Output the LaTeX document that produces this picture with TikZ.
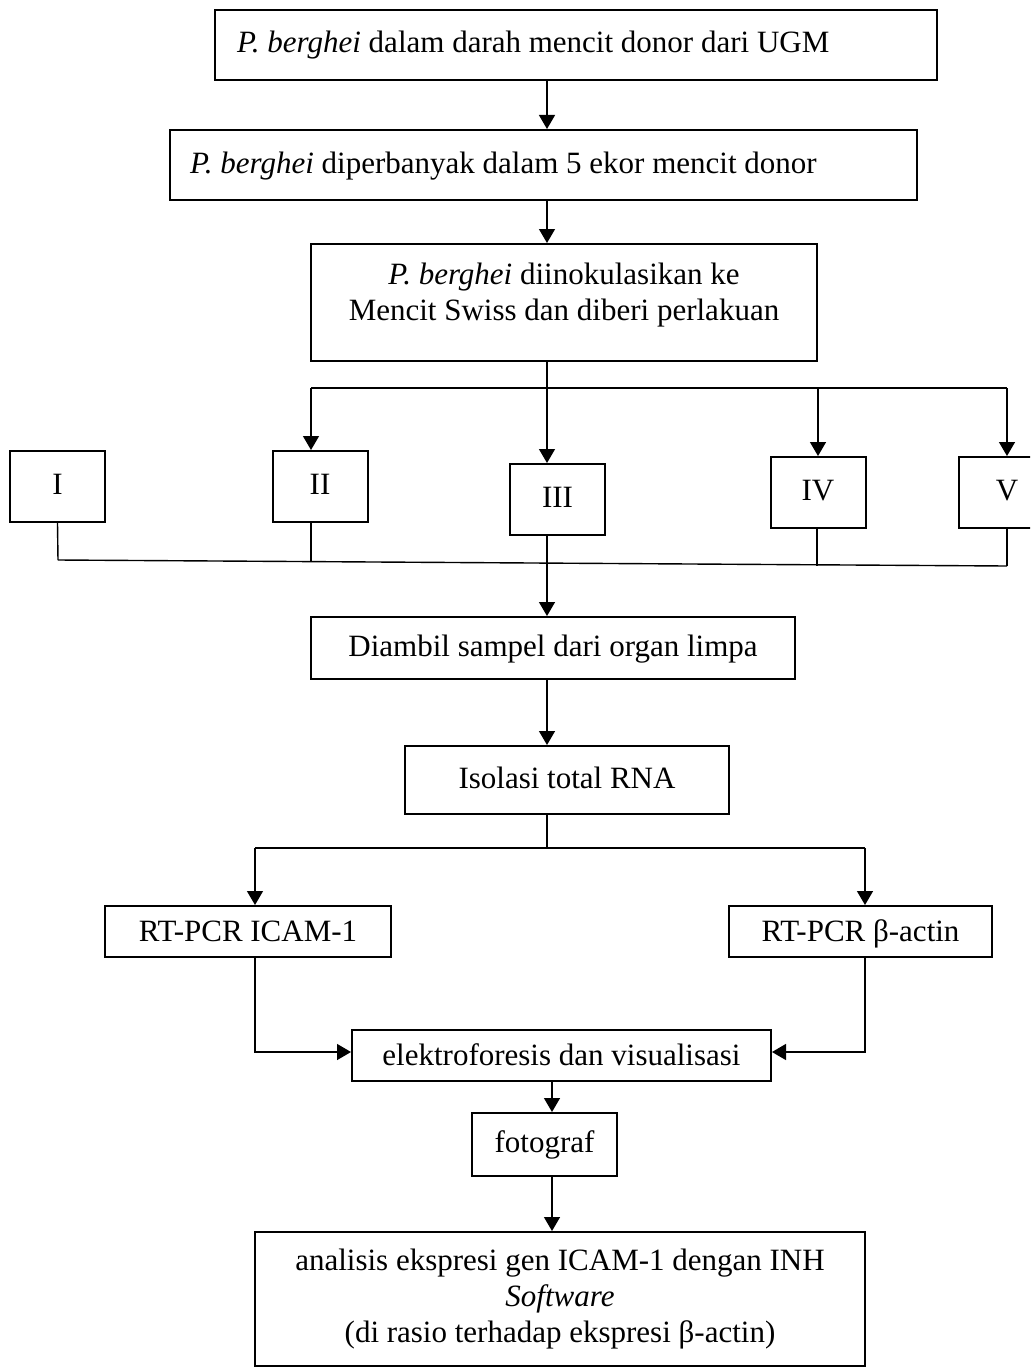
\documentclass[tikz,border=0pt]{standalone}
\usepackage{fontspec}
\setmainfont{Liberation Serif}
\usetikzlibrary{arrows.meta}
\begin{document}
\begin{tikzpicture}[x=0.5pt,y=-0.5pt,
  box/.style={draw,line width=1pt,inner sep=0pt,align=center,font=\fontsize{15.5pt}{18pt}\selectfont},
  one/.style={text height=11pt,text depth=3pt},
  low/.style={text height=12pt,text depth=2pt},
  txt/.style={inner sep=0pt,align=center,font=\fontsize{15.5pt}{18pt}\selectfont},
  conn/.style={line width=0.7pt},
  arr/.style={line width=0.7pt,-{Triangle[length=7pt,width=8pt]}}]
\clip (0,0) rectangle (1030,1370);
\fill[white] (0,0) rectangle (1030,1370);
% boxes
\node[box,one,minimum width=361pt,minimum height=35pt] (b1) at (576,45) {\makebox[339pt][l]{\textit{P. berghei} dalam darah mencit donor dari UGM}};
\node[box,one,minimum width=373.5pt,minimum height=35pt] (b2) at (543.5,165) {\makebox[353.5pt][l]{\textit{P. berghei} diperbanyak dalam 5 ekor mencit donor}};
\node[box,minimum width=253pt,minimum height=58.5pt] (b3) at (564,302.5) {};
\node[txt] (t3) at (564,295) {\textit{P. berghei} diinokulasikan ke\\Mencit Swiss dan diberi perlakuan};
\node[box,one,minimum width=47.5pt,minimum height=35.5pt] (g1) at (57.5,486.5) {I};
\node[box,one,minimum width=47.5pt,minimum height=35.5pt] (g2) at (320,486.5) {II};
\node[box,one,minimum width=47.5pt,minimum height=35.5pt] (g3) at (557.5,499.5) {III};
\node[box,one,minimum width=47.5pt,minimum height=35.5pt] (g4) at (818,492.5) {IV};
\node[box,one,minimum width=48pt,minimum height=35.5pt] (g5) at (1007,492.5) {V};
\node[box,one,minimum width=242pt,minimum height=31pt] (dia) at (553,648) {Diambil sampel dari organ limpa};
\node[box,one,minimum width=162pt,minimum height=34pt] (iso) at (567,780) {Isolasi total RNA};
\node[box,low,minimum width=143pt,minimum height=25.5pt] (icam) at (248,931.5) {RT-PCR ICAM-1};
\node[box,low,minimum width=131.5pt,minimum height=25.5pt] (beta) at (860.5,931.5) {RT-PCR β-actin};
\node[box,low,minimum width=209.5pt,minimum height=25.5pt] (elek) at (561.5,1055.5) {elektroforesis dan visualisasi};
\node[box,one,minimum width=72.5pt,minimum height=31.5pt] (foto) at (544.5,1144.5) {fotograf};
\node[box,minimum width=305pt,minimum height=67pt] (fin) at (560,1299) {analisis ekspresi gen ICAM-1 dengan INH\\\textit{Software}\\(di rasio terhadap ekspresi β-actin)};
% guide coordinates
\coordinate (sp) at (547,0);
\coordinate (sq) at (552,0);
\coordinate (xII) at (311,0);
\coordinate (bar) at (0,388);
\coordinate (barL) at (58,560);
\coordinate (barIIb) at (311,560.5);
\coordinate (barIVb) at (817,566);
\coordinate (barR) at (1007,566);
\coordinate (bar2) at (0,848);
\coordinate (xL) at (255,0);
\coordinate (xR) at (865,0);
\coordinate (lvl) at (0,1052);
% connectors
\draw[arr] (b1.south -| sp) -- (b2.north -| sp);
\draw[arr] (b2.south -| sp) -- (b3.north -| sp);
\draw[arr] (b3.south -| sp) -- (g3.north -| sp);
\draw[conn] (bar -| xII) -- (bar -| g5.north);
\draw[arr] (bar -| xII) -- (g2.north -| xII);
\draw[arr] (bar -| g4.north) -- (g4.north);
\draw[arr] (bar -| g5.north) -- (g5.north);
\draw[conn] (g1.south) -- (barL);
\draw[conn] (g2.south -| xII) -- (barIIb);
\draw[conn] (g4.south -| barIVb) -- (barIVb);
\draw[conn] (g5.south) -- (barR);
\draw[conn] (barL) -- (barR);
\draw[arr] (g3.south -| sp) -- (dia.north -| sp);
\draw[arr] (dia.south -| sp) -- (iso.north -| sp);
\draw[conn] (iso.south -| sp) -- (bar2 -| sp);
\draw[conn] (bar2 -| xL) -- (bar2 -| xR);
\draw[arr] (bar2 -| xL) -- (icam.north -| xL);
\draw[arr] (bar2 -| xR) -- (beta.north -| xR);
\draw[arr] (icam.south -| xL) -- (lvl -| xL) -- (lvl -| elek.west);
\draw[arr] (beta.south -| xR) -- (lvl -| xR) -- (lvl -| elek.east);
\draw[arr] (elek.south -| sq) -- (foto.north -| sq);
\draw[arr] (foto.south -| sq) -- (fin.north -| sq);
\end{tikzpicture}
\end{document}
